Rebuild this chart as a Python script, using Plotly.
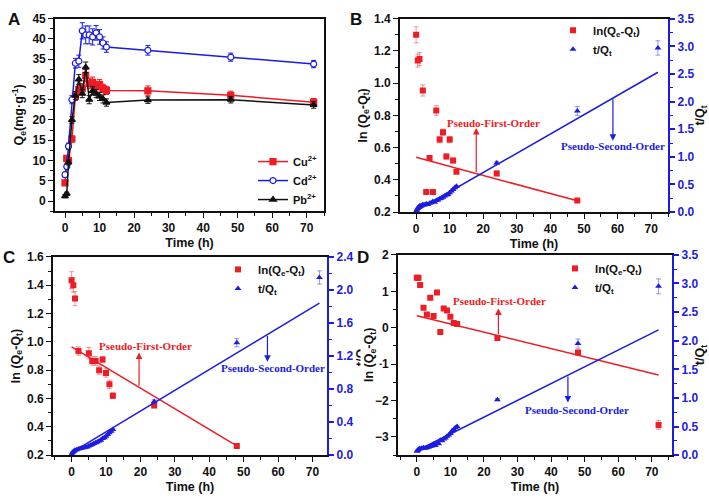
import plotly.graph_objects as go

RED = "#ee1c24"
BLUE = "#1c1ce0"
BLACK = "#111111"
SANS = "Liberation Sans"
SERIF = "Liberation Serif"

# ---------------- Panel A data ----------------
tA = [0, 0.5, 1, 2, 3, 4, 5, 6, 7, 8, 9, 10, 11, 12, 24, 48, 72]
cu = [4.5, 10.5, 10.0, 15.3, 25.8, 27.5, 27.8, 31.0, 29.0, 29.3, 28.3, 28.8, 27.8, 27.3, 27.2, 26.1, 24.4]
cu_err = [0.6, 0.6, 0.6, 0.8, 1.0, 1.2, 1.2, 1.5, 1.3, 1.3, 1.2, 1.2, 1.0, 1.0, 1.2, 1.0, 0.9]
cd = [6.5, 8.5, 13.5, 25.0, 34.0, 34.5, 42.0, 41.0, 41.0, 40.5, 41.5, 40.5, 39.0, 38.0, 37.2, 35.5, 33.8]
cd_err = [0.6, 0.6, 0.8, 1.0, 1.2, 1.5, 2.0, 2.2, 2.2, 2.0, 1.8, 1.8, 1.5, 1.3, 1.2, 1.0, 0.9]
pb = [1.2, 1.8, 9.5, 20.0, 26.0, 30.0, 26.5, 33.0, 25.0, 27.2, 26.5, 25.8, 25.2, 24.3, 24.9, 25.0, 23.7]
pb_err = [0.4, 0.4, 0.6, 0.8, 1.0, 1.2, 1.0, 1.3, 1.0, 1.0, 1.0, 1.0, 1.0, 0.9, 0.8, 0.8, 0.8]

# ---------------- Panel B data ----------------
tB_r = [0, 0.5, 1, 2, 3, 4, 5, 6, 7, 8, 9, 10, 11, 12, 24, 48]
lnB = [1.30, 1.14, 1.15, 0.955, 0.325, 0.535, 0.325, 0.83, 0.65, 0.695, 0.545, 0.65, 0.52, 0.45, 0.44, 0.272]
lnB_err = [0.05, 0.04, 0.04, 0.035, 0.01, 0.015, 0.01, 0.03, 0.02, 0.02, 0.015, 0.02, 0.015, 0.01, 0.015, 0.008]
tB_b = [0.1, 0.25, 0.5, 0.75, 1, 1.5, 2, 2.5, 3, 3.5, 4, 4.5, 5, 5.5, 6, 6.5, 7, 7.5, 8, 8.5, 9, 9.5, 10, 10.5, 11, 11.5, 12, 24, 48, 72]
tqB = [0.02, 0.04, 0.07, 0.09, 0.11, 0.12, 0.14, 0.13, 0.15, 0.14, 0.16, 0.17, 0.19, 0.18, 0.21, 0.22, 0.24, 0.25, 0.27, 0.29, 0.31, 0.32, 0.35, 0.38, 0.41, 0.44, 0.47, 0.89, 1.83, 2.97]
tqB_err = [0.01] * 27 + [0.03, 0.08, 0.13]
fitB_t = [0, 48]
fitB_ln = [0.54, 0.27]
fitB2_t = [0, 72]
fitB2_tq = [0.02, 2.53]

# ---------------- Panel C data ----------------
tC_r = [0, 0.5, 1, 2, 5, 6, 7, 8, 9, 10, 11, 12, 24, 48]
lnC = [1.435, 1.40, 1.305, 0.935, 0.92, 0.865, 0.865, 0.80, 0.875, 0.78, 0.70, 0.62, 0.55, 0.265]
lnC_err = [0.06, 0.05, 0.05, 0.03, 0.04, 0.03, 0.03, 0.03, 0.02, 0.03, 0.03, 0.02, 0.015, 0.01]
tC_b = [0.1, 0.25, 0.5, 0.75, 1, 1.5, 2, 2.5, 3, 3.5, 4, 4.5, 5, 5.5, 6, 6.5, 7, 7.5, 8, 8.5, 9, 9.5, 10, 10.5, 11, 11.5, 12, 24, 48, 72]
tqC = [0.01, 0.03, 0.04, 0.05, 0.06, 0.065, 0.075, 0.08, 0.085, 0.09, 0.095, 0.10, 0.11, 0.12, 0.13, 0.14, 0.15, 0.16, 0.17, 0.18, 0.20, 0.21, 0.23, 0.25, 0.27, 0.29, 0.31, 0.65, 1.36, 2.15]
tqC_err = [0.01] * 27 + [0.02, 0.05, 0.08]
fitC_t = [0, 48]
fitC_ln = [0.965, 0.265]
fitC2_t = [0, 72]
fitC2_tq = [0.03, 1.84]

# ---------------- Panel D data ----------------
tD_r = [0, 0.5, 1, 2, 3, 4, 5, 6, 7, 8, 9, 10, 11, 12, 24, 48, 72]
lnD = [1.37, 1.37, 1.17, 0.55, 0.36, 0.82, 0.32, 0.97, -0.12, 0.53, 0.47, 0.30, 0.13, 0.10, -0.28, -0.68, -2.67]
lnD_err = [0.06, 0.06, 0.05, 0.04, 0.03, 0.04, 0.03, 0.04, 0.04, 0.03, 0.03, 0.03, 0.03, 0.03, 0.04, 0.06, 0.12]
tD_b = [0.1, 0.25, 0.5, 0.75, 1, 1.5, 2, 2.5, 3, 3.5, 4, 4.5, 5, 5.5, 6, 6.5, 7, 7.5, 8, 8.5, 9, 9.5, 10, 10.5, 11, 11.5, 12, 24, 48, 72]
tqD = [0.07, 0.08, 0.10, 0.11, 0.11, 0.12, 0.13, 0.12, 0.13, 0.14, 0.15, 0.16, 0.19, 0.17, 0.21, 0.20, 0.26, 0.25, 0.28, 0.30, 0.33, 0.35, 0.38, 0.42, 0.45, 0.48, 0.50, 0.97, 1.95, 2.95]
tqD_err = [0.01] * 27 + [0.02, 0.08, 0.13]
fitD_t = [0, 72]
fitD_ln = [0.33, -1.30]
fitD2_t = [0, 72]
fitD2_tq = [0.077, 2.19]

W, H = 709, 502


def px(x):
    return x / W


def py(y):
    return 1 - y / H


fig = go.Figure()


def add_series_A(y, err, color, symbol, name, fill=True):
    fig.add_trace(go.Scatter(
        x=tA, y=y, mode="lines+markers", name=name,
        line=dict(color=color, width=1.5),
        marker=dict(symbol=symbol, size=6,
                    color=color if fill else "white",
                    line=dict(color=color, width=1.2)),
        error_y=dict(type="data", array=err, color=color, thickness=1, width=2.5),
        xaxis="x", yaxis="y", legend="legend"))


add_series_A(cu, cu_err, RED, "square", "Cu<sup>2+</sup>")
add_series_A(cd, cd_err, BLUE, "circle", "Cd<sup>2+</sup>", fill=False)
add_series_A(pb, pb_err, BLACK, "triangle-up", "Pb<sup>2+</sup>")


def add_kinetic(xa, yl, yr, leg, tr, ln, lnerr, tb, tq, tqerr, f1t, f1, f2t, f2):
    fig.add_trace(go.Scatter(x=f1t, y=f1, mode="lines", line=dict(color=RED, width=1.5),
                             showlegend=False, xaxis=xa, yaxis=yl))
    fig.add_trace(go.Scatter(x=f2t, y=f2, mode="lines", line=dict(color=BLUE, width=1.5),
                             showlegend=False, xaxis=xa, yaxis=yr))
    fig.add_trace(go.Scatter(x=tr, y=ln, mode="markers", name="ln(Q<sub>e</sub>-Q<sub>t</sub>)",
                             marker=dict(symbol="square", size=6, color=RED),
                             error_y=dict(type="data", array=lnerr, color="rgba(238,28,36,0.45)",
                                          thickness=1, width=2.5),
                             xaxis=xa, yaxis=yl, legend=leg))
    fig.add_trace(go.Scatter(x=tb, y=tq, mode="markers", name="t/Q<sub>t</sub>",
                             marker=dict(symbol="triangle-up", size=6, color=BLUE),
                             error_y=dict(type="data", array=tqerr, color="rgba(28,28,224,0.45)",
                                          thickness=1, width=2.5),
                             xaxis=xa, yaxis=yr, legend=leg))


add_kinetic("x2", "y2", "y3", "legend2", tB_r, lnB, lnB_err, tB_b, tqB, tqB_err,
            fitB_t, fitB_ln, fitB2_t, fitB2_tq)
add_kinetic("x3", "y4", "y5", "legend3", tC_r, lnC, lnC_err, tC_b, tqC, tqC_err,
            fitC_t, fitC_ln, fitC2_t, fitC2_tq)
add_kinetic("x4", "y6", "y7", "legend4", tD_r, lnD, lnD_err, tD_b, tqD, tqD_err,
            fitD_t, fitD_ln, fitD2_t, fitD2_tq)

tickfont = dict(family=SANS, size=12, color="#111", weight="bold")
titlefont = dict(family=SANS, size=12.5, color="#111", weight="bold")


def xaxis_cfg(dom, rng, anchor):
    return dict(domain=dom, range=rng, anchor=anchor, tickvals=[0, 10, 20, 30, 40, 50, 60, 70],
                ticks="outside", ticklen=5, tickwidth=1.3, tickcolor="#111",
                minor=dict(ticks="outside", ticklen=3, tickwidth=1.2, tickcolor="#111", dtick=5, tick0=0),
                showline=True, linecolor="#111", linewidth=1.6, mirror=True,
                showgrid=False, zeroline=False, tickfont=tickfont,
                title=dict(text="Time (h)", font=titlefont, standoff=4))


def yleft_cfg(dom, rng, anchor, dtick, mdtick, title, standoff, fmt, mirror=False):
    return dict(domain=dom, range=rng, anchor=anchor, dtick=dtick, tick0=0,
                ticks="outside", ticklen=5, tickwidth=1.3, tickcolor="#111",
                minor=dict(ticks="outside", ticklen=3, tickwidth=1.2, tickcolor="#111", dtick=mdtick, tick0=0),
                showline=True, linecolor="#111", linewidth=1.6, mirror=mirror,
                showgrid=False, zeroline=False, tickfont=tickfont, tickformat=fmt,
                title=dict(text=title, font=titlefont, standoff=standoff))


def yright_cfg(rng, anchor, overlay, dtick, mdtick, fmt, standoff=2):
    return dict(range=rng, anchor=anchor, overlaying=overlay, side="right", dtick=dtick, tick0=0,
                ticks="outside", ticklen=5, tickwidth=1.5, tickcolor=BLUE,
                minor=dict(ticks="outside", ticklen=3, tickwidth=1.3, tickcolor=BLUE, dtick=mdtick, tick0=0),
                showline=True, linecolor=BLUE, linewidth=2.2,
                showgrid=False, zeroline=False, tickformat=fmt,
                tickfont=dict(family=SANS, size=12, color=BLUE, weight="bold"),
                title=dict(text="t/Q<sub>t</sub>", font=dict(family=SANS, size=12.5, color="#111", weight="bold"),
                           standoff=standoff))


domA_x = [px(55), px(324)]
domA_y = [py(210), py(12)]
domB_x = [px(400), px(668)]
domB_y = [py(211), py(12)]
domC_x = [px(53), px(327)]
domC_y = [py(461), py(257)]
domD_x = [px(398), px(672)]
domD_y = [py(461), py(255)]

ylab = "ln (Q<sub>e</sub>-Q<sub>t</sub>)"
legfont = dict(family=SANS, size=11.5, color="#111", weight="bold")

fig.update_layout(
    width=W, height=H, margin=dict(l=0, r=0, t=0, b=0),
    paper_bgcolor="white", plot_bgcolor="white",
    xaxis=xaxis_cfg(domA_x, [-2.9, 75], "y"),
    yaxis=yleft_cfg(domA_y, [-2.5, 45], "x", 5, 2.5, "Q<sub>e</sub>(mg·g<sup>-1</sup>)", 6, "d", mirror=True),
    xaxis2=xaxis_cfg(domB_x, [-4.8, 75], "y2"),
    yaxis2=yleft_cfg(domB_y, [0.2, 1.4], "x2", 0.2, 0.1, ylab, 4, ".1f"),
    yaxis3=yright_cfg([0, 3.5], "x2", "y2", 0.5, 0.25, ".1f"),
    xaxis3=xaxis_cfg(domC_x, [-5.4, 74.2], "y4"),
    yaxis4=yleft_cfg(domC_y, [0.2, 1.6], "x3", 0.2, 0.1, ylab, 4, ".1f"),
    yaxis5=yright_cfg([0, 2.4], "x3", "y4", 0.4, 0.2, ".1f", standoff=0),
    xaxis4=xaxis_cfg(domD_x, [-5.6, 76], "y6"),
    yaxis6=yleft_cfg(domD_y, [-3.5, 2], "x4", 1, 0.5, "", 4, "d"),
    yaxis7=yright_cfg([0, 3.5], "x4", "y6", 0.5, 0.25, ".1f"),
    legend=dict(x=px(322), y=py(213), xanchor="right", yanchor="bottom",
                font=dict(family=SANS, size=11, color="#111", weight="bold"),
                bgcolor="rgba(255,255,255,0)", itemwidth=30, tracegroupgap=0),
    legend2=dict(x=px(553), y=py(9), xanchor="left", yanchor="top",
                 font=legfont, bgcolor="rgba(255,255,255,0)", itemwidth=30),
    legend3=dict(x=px(218), y=py(255), xanchor="left", yanchor="top",
                 font=legfont, bgcolor="rgba(255,255,255,0)", itemwidth=30),
    legend4=dict(x=px(555), y=py(254), xanchor="left", yanchor="top",
                 font=legfont, bgcolor="rgba(255,255,255,0)", itemwidth=30),
    showlegend=True,
)

annots = []
for letter, x, y in [("A", 14, 13), ("B", 356, 13), ("C", 9, 258), ("D", 363, 258)]:
    annots.append(dict(text=letter, x=px(x), y=py(y), xref="paper", yref="paper",
                       xanchor="center", yanchor="middle", showarrow=False,
                       font=dict(family=SANS, size=17, color="#111", weight="bold")))

# Panel D left-axis title drawn with a white backing (it sits over panel C's right title)
annots.append(dict(text=ylab, x=px(370), y=py(358), xref="paper", yref="paper",
                   xanchor="center", yanchor="middle", textangle=-90, showarrow=False,
                   bgcolor="white", font=titlefont))


def label_arrow(xa, ya, text, color, tx, ty, ax_x, tail_y, tip_y):
    annots.append(dict(text=text, x=tx, y=ty, xref=xa, yref=ya, showarrow=False,
                       font=dict(family=SERIF, size=11, color=color, weight="bold")))
    annots.append(dict(text="", x=ax_x, y=tip_y, ax=ax_x, ay=tail_y, xref=xa, yref=ya,
                       axref=xa, ayref=ya, showarrow=True, arrowhead=2, arrowsize=1.1,
                       arrowwidth=1.2, arrowcolor=color, standoff=0))


label_arrow("x2", "y2", "Pseudo-First-Order", RED, 22.9, 0.755, 17.9, 0.44, 0.722)
label_arrow("x2", "y3", "Pseudo-Second-Order", BLUE, 58.6, 1.19, 58.6, 2.07, 1.29)
label_arrow("x3", "y4", "Pseudo-First-Order", RED, 21.6, 0.97, 19.6, 0.68, 0.925)
label_arrow("x3", "y5", "Pseudo-Second-Order", BLUE, 58.4, 1.05, 56.9, 1.46, 1.13)
label_arrow("x4", "y6", "Pseudo-First-Order", RED, 24.5, 0.74, 24.3, -0.22, 0.53)
label_arrow("x4", "y7", "Pseudo-Second-Order", BLUE, 47.8, 0.79, 45.0, 1.40, 0.92)

fig.update_layout(annotations=annots)
fig.write_html("out.html", config={"displayModeBar": False},
               post_script="document.body.style.margin='0';document.body.style.overflow='hidden';")
